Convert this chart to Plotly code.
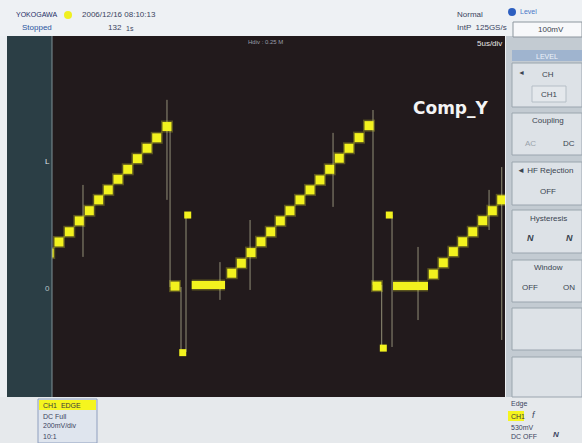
import plotly.graph_objects as go

# ---------------- data (time in microseconds, voltage in mV) ----------------
step_t = [-0.31, 0.77, 1.91, 3.01, 4.12, 5.15, 6.21, 7.28, 8.36, 9.42, 10.49, 11.56, 12.69,
          13.58,
          19.84, 20.90, 21.97, 23.07, 24.14, 25.20, 26.27, 27.37, 28.48, 29.58, 30.65,
          31.71, 32.78, 33.89, 34.99,
          35.87,
          42.09, 43.19, 44.30, 45.33, 46.44, 47.54, 48.60, 49.64]
step_v = [150, 199, 244, 292, 337, 385, 429, 476, 520, 567, 613, 659, 709,
          4,
          61, 105, 152, 200, 244, 292, 337, 385, 429, 473, 520, 569, 613, 660, 713,
          4,
          57, 107, 156, 200, 244, 293, 337, 385]

flat_start = [15.42, 37.64]
flat_end = [19.10, 41.50]
flat_v = [9, 4]

dot_t = [14.43, 14.98, 36.57, 37.23]
dot_v = [-290, 318, -270, 318]

glitch_t = [3.42, 12.69, 13.03, 14.24, 14.79, 18.54, 21.86, 31.02, 35.43, 36.39, 37.53, 40.40, 48.24, 49.64]
glitch_hi = [451, 827, 694, 0, 327, 110, 296, 681, 782, 9, 318, 177, 429, 530]
glitch_lo = [133, 385, 0, -287, -287, -57, -13, 354, 9, -270, -265, -146, 252, -234]

x_range = [0, 50]
y_range = [-486, 1109]

# ---------------- figure ----------------
W, H = 582, 443
L, R, T, B = 52, 77, 36, 46
YEL = "#f2f21e"
GLOW = "rgba(235,235,40,0.28)"

fig = go.Figure()

gx, gy = [], []
for t, lo, hi in zip(glitch_t, glitch_lo, glitch_hi):
    gx += [t, t, None]
    gy += [lo, hi, None]
fig.add_trace(go.Scatter(x=gx, y=gy, mode="lines",
                         line=dict(color="rgba(220,220,180,0.6)", width=1),
                         hoverinfo="skip", showlegend=False))

fx, fy = [], []
for a, b, v in zip(flat_start, flat_end, flat_v):
    fx += [a, b, None]
    fy += [v, v, None]
fig.add_trace(go.Scatter(x=fx, y=fy, mode="lines",
                         line=dict(color=GLOW, width=11),
                         hoverinfo="skip", showlegend=False))
fig.add_trace(go.Scatter(x=fx, y=fy, mode="lines",
                         line=dict(color=YEL, width=8),
                         hoverinfo="skip", showlegend=False))

fig.add_trace(go.Scatter(x=step_t, y=step_v, mode="markers",
                         marker=dict(symbol="square", size=12, color=GLOW, line=dict(width=0)),
                         hoverinfo="skip", showlegend=False))
fig.add_trace(go.Scatter(x=step_t, y=step_v, mode="markers",
                         marker=dict(symbol="square", size=9, color=YEL, line=dict(width=0)),
                         hoverinfo="skip", showlegend=False))

fig.add_trace(go.Scatter(x=dot_t, y=dot_v, mode="markers",
                         marker=dict(symbol="square", size=7, color=YEL, line=dict(width=0)),
                         hoverinfo="skip", showlegend=False))


def px(x):
    return (x - L) / (W - L - R)


def py(y):
    return (H - B - y) / (H - T - B)


shapes = []
ann = []


def rect(x0, y0, x1, y1, fill, line=None, lw=0):
    shapes.append(dict(type="rect", xref="paper", yref="paper",
                       x0=px(x0), x1=px(x1), y0=py(y1), y1=py(y0),
                       fillcolor=fill, line=dict(color=line or fill, width=lw), layer="above"))


def text(x, y, s, size=8, color="#3a4450", anchor="left", family="Liberation Sans", bg=None):
    d = dict(x=px(x), y=py(y), xref="paper", yref="paper", text=s, showarrow=False,
             xanchor=anchor, yanchor="middle",
             font=dict(size=size, color=color, family=family))
    if bg:
        d["bgcolor"] = bg
    ann.append(d)


# header & footer
rect(0, 0, 582, 36, "#eef1f4")
rect(0, 397, 582, 443, "#e6e9ec")
# left strip
rect(7, 36, 52, 397, "#2b3e45")
shapes.append(dict(type="line", xref="paper", yref="paper", x0=px(52), x1=px(52),
                   y0=py(36), y1=py(397), line=dict(color="#7f9096", width=1)))
text(47, 161, "L", 8, "#dfe6e8", "center")
text(47, 288, "0", 8, "#b9c4c8", "center")

# right panel
rect(506, 36, 582, 397, "#c3cbd2")
rect(512, 50, 582, 61, "#9fb4cf")
text(547, 56, "LEVEL", 7, "#eef3fa", "center")
boxes = [(63, 107), (113, 155), (162, 205), (210, 253), (260, 302), (308, 350), (357, 397)]
for y0, y1 in boxes:
    rect(512, y0, 582, y1, "#dde2e7", "#9aa5ae", 1)

text(516, 72, "◄", 7, "#3a4450")
text(548, 74, "CH", 8, "#3a4450", "center")
rect(532, 86, 566, 102, "#e4e8ec", "#b5bec6", 1)
text(549, 94, "CH1", 8, "#3a4450", "center")
text(548, 121, "Coupling", 8, "#3a4450", "center")
text(530, 143, "AC", 8, "#9aa3ab", "center")
text(569, 143, "DC", 8, "#3a4450", "center")
text(515, 170, "◄ HF Rejection", 8, "#3a4450")
text(548, 191, "OFF", 8, "#3a4450", "center")
text(548, 218, "Hysteresis", 8, "#3a4450", "center")
text(530, 238, "<i><b>N</b></i>", 9, "#3a4450", "center")
text(569, 238, "<i><b>N</b></i>", 9, "#3a4450", "center")
text(548, 267, "Window", 8, "#3a4450", "center")
text(530, 287, "OFF", 8, "#3a4450", "center")
text(569, 287, "ON", 8, "#3a4450", "center")

# level box (top right)
shapes.append(dict(type="circle", xref="paper", yref="paper", x0=px(508), x1=px(516),
                   y0=py(16), y1=py(8), fillcolor="#2d5fc0", line=dict(width=0), layer="above"))
text(518, 12, "Level", 7, "#4a78c8")
rect(513, 22, 582, 37, "#f7f8fa", "#8d969e", 1)
text(566, 30, "100mV", 8, "#3a4450", "right")

# header texts
text(14, 15, "YOKOGAWA", 7, "#1e2e66")
shapes.append(dict(type="circle", xref="paper", yref="paper", x0=px(64), x1=px(72),
                   y0=py(19), y1=py(11), fillcolor="#f0f020", line=dict(width=0), layer="above"))
text(80, 15, "2006/12/16 08:10:13", 8, "#3a4460")
text(20, 28, "Stopped", 8, "#2a55a0")
text(106, 28, "132", 8, "#3a4460")
text(124, 29, "1s", 7, "#3a4460")
text(455, 15, "Normal", 8, "#3a4460")
text(455, 28, "IntP  125GS/s", 8, "#3a4460")

# plot overlay texts
text(265, 42, "Hdiv : 0.25 M", 6, "#9a9ea8", "center")
text(504, 43, "5us/div", 8, "#e6e6e6", "right")
text(451, 108, "<b>Comp_Y</b>", 17, "#f4f4f4", "center", "DejaVu Sans")

# footer boxes
rect(38, 399, 97, 443, "#dfe5ee", "#8f9fbf", 1)
rect(39, 400, 96, 410, "#f5f51e")
text(41, 405, "CH1  EDGE", 7, "#3a3a3a")
text(41, 416, "DC Full", 7, "#3a4460")
text(41, 426, "200mV/div", 7, "#3a4460")
text(41, 436, "10:1", 7, "#3a4460")

text(509, 404, "Edge", 7, "#3a4460")
rect(508, 411, 524, 421, "#f5f51e")
text(509, 416, "CH1", 7, "#3a3a3a")
text(530, 415, "<i>f</i>", 9, "#3a4460")
text(509, 427, "530mV", 7, "#3a4460")
text(509, 436, "DC OFF", 7, "#3a4460")
text(556, 435, "<i><b>N</b></i>", 8, "#3a4460", "center")

fig.update_layout(
    width=W, height=H,
    margin=dict(l=L, r=R, t=T, b=B, pad=0),
    paper_bgcolor="#eceff2",
    plot_bgcolor="#221a1c",
    shapes=shapes,
    annotations=ann,
    showlegend=False,
    xaxis=dict(range=x_range, showgrid=False, zeroline=False, showticklabels=False,
               ticks="", showline=False, fixedrange=True),
    yaxis=dict(range=y_range, showgrid=False, zeroline=False, showticklabels=False,
               ticks="", showline=False, fixedrange=True),
)

fig.write_html("out.html", config={"displayModeBar": False},
               post_script="document.body.style.margin='0';document.body.style.padding='0';")
